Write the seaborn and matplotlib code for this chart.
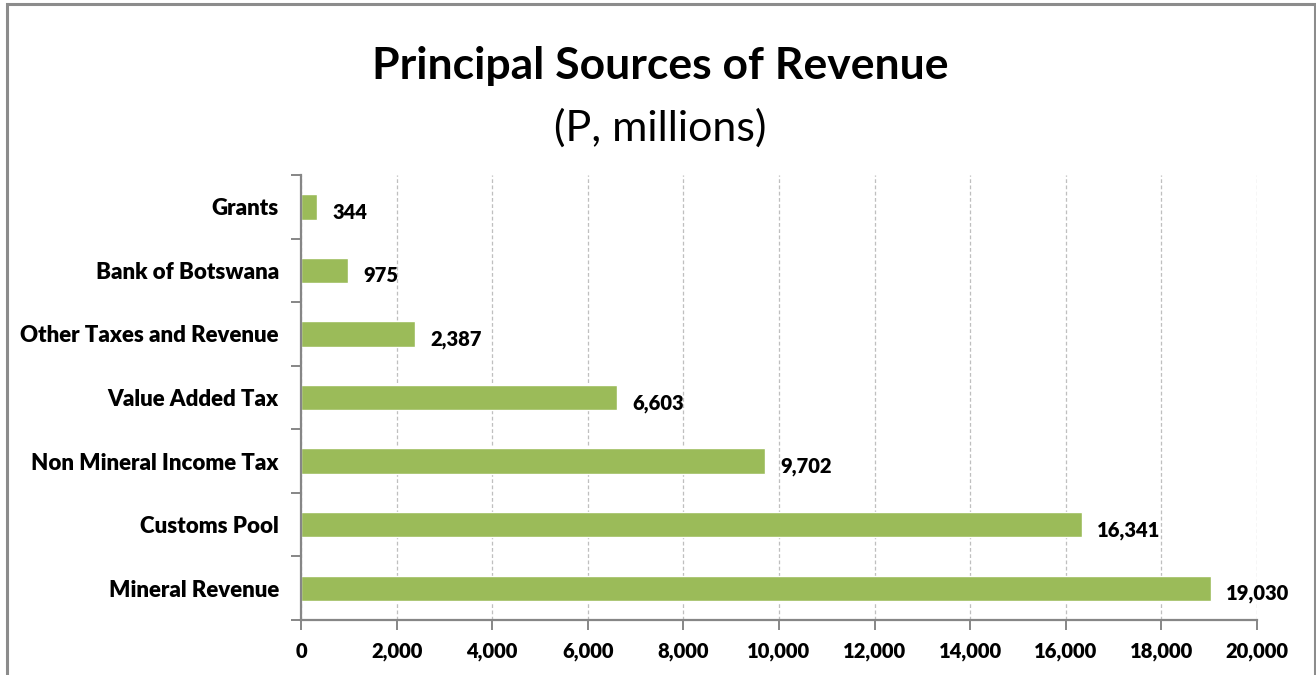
import matplotlib
matplotlib.use("Agg")
import matplotlib.pyplot as plt
from matplotlib.ticker import FuncFormatter, FixedLocator
from matplotlib.patches import Rectangle
import seaborn as sns
import pandas as pd

categories = [
    "Grants",
    "Bank of Botswana",
    "Other Taxes and Revenue",
    "Value Added Tax",
    "Non Mineral Income Tax",
    "Customs Pool",
    "Mineral Revenue",
]
values = [344, 975, 2387, 6603, 9702, 16341, 19030]
x_ticks = list(range(0, 20001, 2000))

sns.set_theme(style="white")
plt.rcParams["font.family"] = ["Lato", "DejaVu Sans"]

df = pd.DataFrame({"source": categories, "value": values})

fig = plt.figure(figsize=(13.16, 6.75), dpi=100)
ax = fig.add_axes([301 / 1316, 1 - 620 / 675, (1257 - 301) / 1316, (620 - 175) / 675])

sns.barplot(data=df, x="value", y="source", order=categories, orient="h",
            color="#9BBB59", width=0.4, saturation=1, ax=ax)

ax.set_xlim(0, 20000)
ax.set_ylim(len(categories) - 0.5, -0.5)
ax.set_xlabel("")
ax.set_ylabel("")

ax.xaxis.set_major_locator(FixedLocator(x_ticks))
ax.xaxis.set_major_formatter(FuncFormatter(lambda v, p: f"{int(v):,}"))
ax.grid(axis="x", color="#BFBFBF", linestyle=(0, (3, 2)), linewidth=0.9)
ax.set_axisbelow(True)

for side in ("top", "right"):
    ax.spines[side].set_visible(False)
for side in ("left", "bottom"):
    ax.spines[side].set_color("#868686")
    ax.spines[side].set_linewidth(1.6)

ax.tick_params(axis="x", which="major", direction="out", length=7, width=1.4,
               color="#868686", labelsize=14.5, pad=9, bottom=True)
ax.tick_params(axis="y", which="major", length=0, labelsize=16, pad=16)
ax.yaxis.set_minor_locator(FixedLocator([i - 0.5 for i in range(len(categories) + 1)]))
ax.tick_params(axis="y", which="minor", direction="out", length=7, width=1.4,
               color="#868686", left=True)
for lbl in ax.get_xticklabels() + ax.get_yticklabels():
    lbl.set_fontweight(800)
    lbl.set_color("#000000")

for i, v in enumerate(values):
    ax.annotate(f"{v:,}", xy=(v, i), xytext=(11, -4), textcoords="offset points",
                ha="left", va="center", fontsize=14.5, fontweight=800, color="#000000")

fig.text(0.502, 1 - 66 / 675, "Principal Sources of Revenue", ha="center", va="center",
         fontsize=32, fontweight="bold", color="#000000")
fig.text(0.502, 1 - 128 / 675, "(P, millions)", ha="center", va="center",
         fontsize=31, color="#000000")

fig.patches.append(Rectangle((7 / 1316, -0.05), (1315 - 7) / 1316, 1.05 - 4 / 675,
                             transform=fig.transFigure, fill=False,
                             edgecolor="#8C8C8C", linewidth=2.2))

fig.savefig("out.png", dpi=100)
